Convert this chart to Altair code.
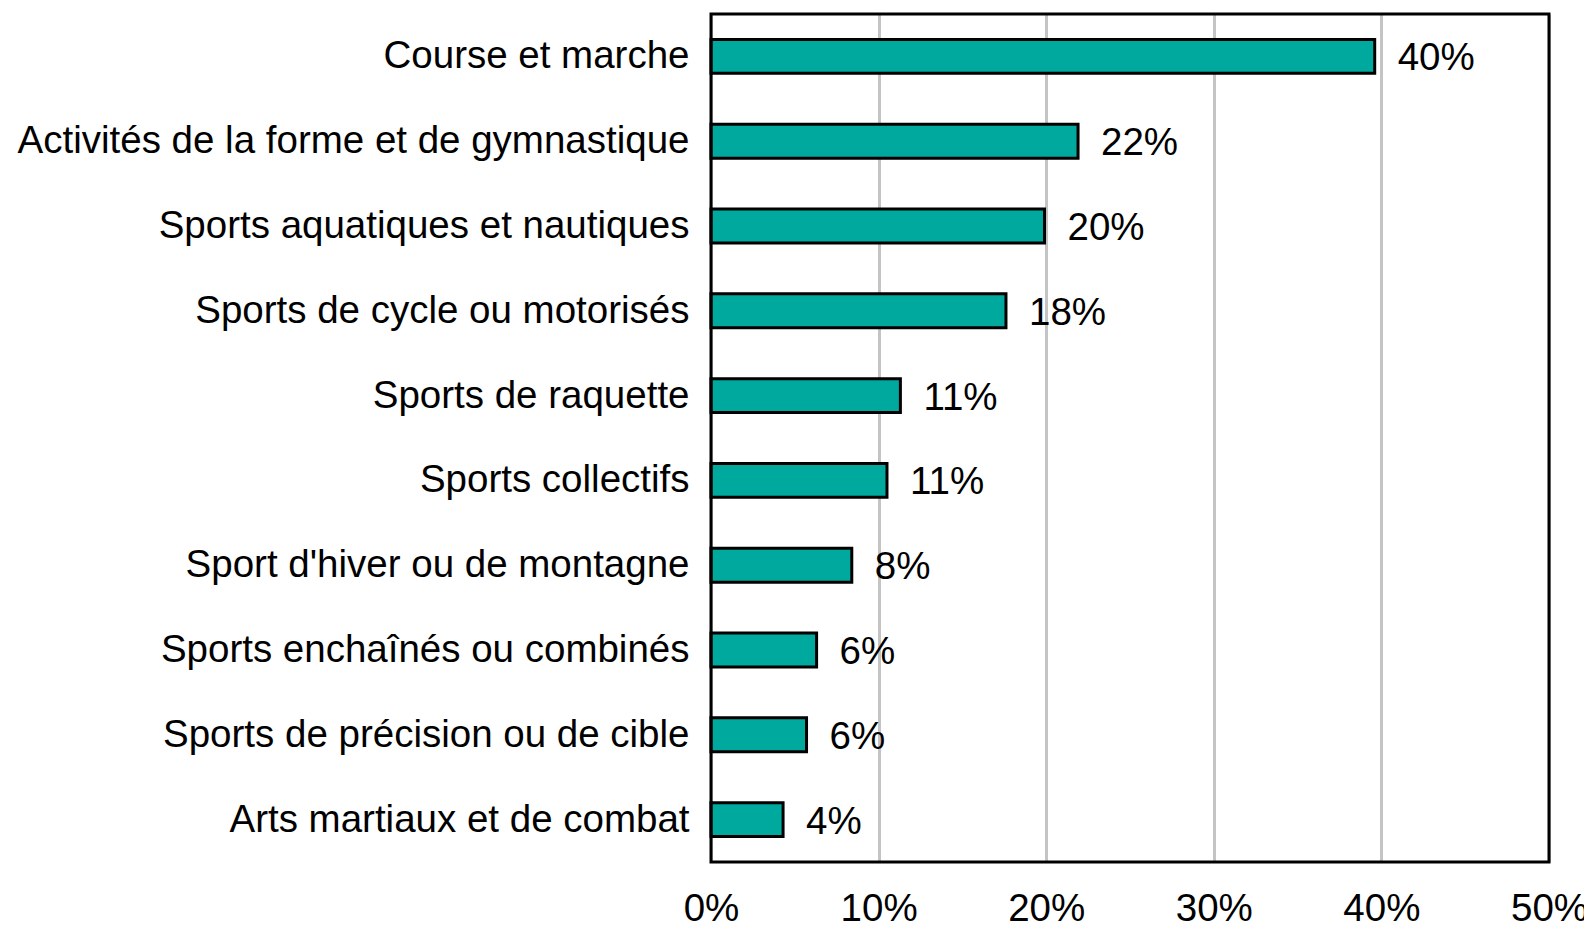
import altair as alt
import pandas as pd

categories = [
    "Course et marche",
    "Activités de la forme et de gymnastique",
    "Sports aquatiques et nautiques",
    "Sports de cycle ou motorisés",
    "Sports de raquette",
    "Sports collectifs",
    "Sport d'hiver ou de montagne",
    "Sports enchaînés ou combinés",
    "Sports de précision ou de cible",
    "Arts martiaux et de combat",
]
values = [39.6, 21.9, 19.9, 17.6, 11.3, 10.5, 8.4, 6.3, 5.7, 4.3]
labels = ["40%", "22%", "20%", "18%", "11%", "11%", "8%", "6%", "6%", "4%"]
x_ticks = [0, 10, 20, 30, 40, 50]

df = pd.DataFrame({"cat": categories, "val": values, "lab": labels})

W, H = 838, 848
FONT = "Liberation Sans"
FS = 38.5

xscale = alt.Scale(domain=[0, 50], nice=False)
yscale = alt.Scale(domain=categories, paddingInner=0.6, paddingOuter=0.3)

bars = alt.Chart(df).mark_bar(
    color="#00A99E", stroke="black", strokeWidth=3
).encode(
    x=alt.X("val:Q", scale=xscale, axis=alt.Axis(
        values=x_ticks, labelExpr="datum.value + '%'", title=None,
        domain=False, ticks=False, grid=True, gridColor="#c4c4c4", gridWidth=3,
        labelFont=FONT, labelFontSize=FS, labelColor="black", labelPadding=28,
        labelFlush=False,
    )),
    y=alt.Y("cat:N", sort=categories, scale=yscale, axis=alt.Axis(
        title=None, domain=False, ticks=False, grid=False,
        labelFont=FONT, labelFontSize=FS, labelColor="black", labelPadding=22,
        labelLimit=0,
    )),
)

text = alt.Chart(df).mark_text(
    align="left", baseline="middle", dx=23, dy=2, font=FONT, fontSize=FS, color="black"
).encode(
    x=alt.X("val:Q", scale=xscale),
    y=alt.Y("cat:N", sort=categories, scale=yscale),
    text="lab:N",
)

frame = alt.Chart(pd.DataFrame({"a": [0]})).mark_rect(
    filled=False, stroke="black", strokeWidth=3
).encode(
    x=alt.value(0), x2=alt.value(W), y=alt.value(0), y2=alt.value(H)
)

chart = alt.layer(bars, text, frame).properties(
    width=W, height=H,
    autosize=alt.AutoSizeParams(type="none"),
    padding={"left": 703, "top": 6, "right": 35, "bottom": 60},
).configure_view(stroke=None)

chart.save("out.html", embed_options={"renderer": "svg", "actions": False})
